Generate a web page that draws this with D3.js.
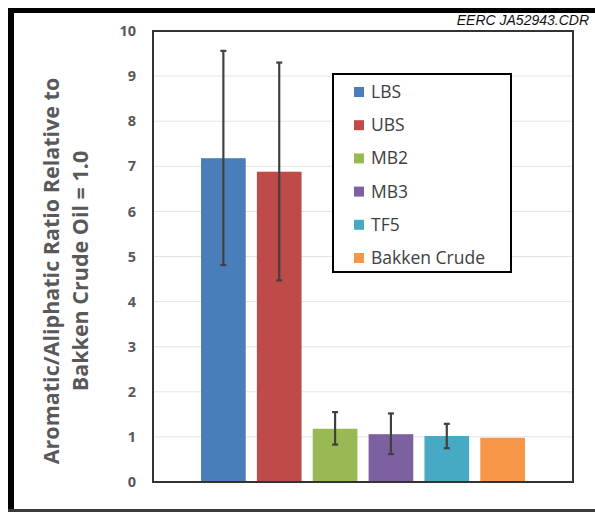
<!DOCTYPE html>
<html>
<head>
<meta charset="utf-8">
<script src="https://cdn.jsdelivr.net/npm/d3@7"></script>
<style>
  html, body { margin: 0; padding: 0; background: #fff; }
  svg { display: block; }
</style>
</head>
<body>
<svg id="chart" width="595" height="512"></svg>
<script>
// Sample groups and their aromatic/aliphatic ratios (relative to Bakken crude = 1.0)
const categories = ["LBS", "UBS", "MB2", "MB3", "TF5", "Bakken Crude"];
const values     = [7.18, 6.88, 1.18, 1.06, 1.02, 0.98];
const errHigh    = [9.56, 9.30, 1.55, 1.52, 1.29, null];
const errLow     = [4.81, 4.47, 0.83, 0.62, 0.75, null];
const colors     = ["#4a7ebb", "#be4b48", "#98b954", "#7d60a0", "#46aac5", "#f79646"];
const yTicks     = [0, 1, 2, 3, 4, 5, 6, 7, 8, 9, 10];

const svg = d3.select("#chart");
const W = 595, H = 512;
const plot = { left: 153, right: 573, top: 31, bottom: 482 };

// Outer frame: heavy black top/left edges, thin dark bottom edge
svg.append("rect").attr("x", 8).attr("y", 8).attr("width", W - 8).attr("height", 5).attr("fill", "#000");
svg.append("rect").attr("x", 8).attr("y", 8).attr("width", 6).attr("height", H - 8).attr("fill", "#000");
svg.append("rect").attr("x", 8).attr("y", 509).attr("width", W - 8).attr("height", 3).attr("fill", "#3a3a3a");

svg.append("text")
  .attr("x", 589).attr("y", 25)
  .attr("text-anchor", "end")
  .attr("font-family", "Liberation Sans, Arial, sans-serif")
  .attr("font-style", "italic")
  .attr("font-size", 14)
  .attr("fill", "#111")
  .text("EERC JA52943.CDR");

const x = d3.scaleBand()
  .domain(categories)
  .range([plot.left, plot.right])
  .paddingInner(0.2)
  .paddingOuter(0.86);

const y = d3.scaleLinear().domain([0, 10]).range([plot.bottom, plot.top]);

// Gridlines
svg.append("g")
  .selectAll("line")
  .data(yTicks.filter(d => d > 0 && d < 10))
  .join("line")
  .attr("x1", plot.left).attr("x2", plot.right)
  .attr("y1", d => y(d)).attr("y2", d => y(d))
  .attr("stroke", "#e4e4e4").attr("stroke-width", 1);

// Y axis tick labels
const yAxis = d3.axisLeft(y).tickValues(yTicks).tickSize(0).tickPadding(17);
const gy = svg.append("g").attr("transform", `translate(${plot.left},0)`).call(yAxis);
gy.select(".domain").remove();
gy.selectAll("text")
  .attr("font-family", "Open Sans, Liberation Sans, sans-serif")
  .attr("font-weight", "bold")
  .attr("font-size", 14.5)
  .attr("fill", "#595959");

// Bars
svg.append("g")
  .selectAll("rect")
  .data(categories)
  .join("rect")
  .attr("x", d => x(d))
  .attr("width", x.bandwidth())
  .attr("y", (d, i) => y(values[i]))
  .attr("height", (d, i) => y(0) - y(values[i]))
  .attr("fill", (d, i) => colors[i]);

// Error bars
const eb = svg.append("g").attr("stroke", "#404040").attr("stroke-width", 2.2);
categories.forEach((c, i) => {
  if (errHigh[i] == null) return;
  const cx = x(c) + x.bandwidth() / 2;
  eb.append("line").attr("x1", cx).attr("x2", cx).attr("y1", y(errHigh[i])).attr("y2", y(errLow[i]));
  eb.append("line").attr("x1", cx - 3).attr("x2", cx + 3).attr("y1", y(errHigh[i])).attr("y2", y(errHigh[i]));
  eb.append("line").attr("x1", cx - 3).attr("x2", cx + 3).attr("y1", y(errLow[i])).attr("y2", y(errLow[i]));
});

// Plot frame
svg.append("rect")
  .attr("x", plot.left).attr("y", plot.top)
  .attr("width", plot.right - plot.left).attr("height", plot.bottom - plot.top)
  .attr("fill", "none").attr("stroke", "#333").attr("stroke-width", 2);

// Y axis title
const title = svg.append("text")
  .attr("transform", "translate(75,271) rotate(-90)")
  .attr("text-anchor", "middle")
  .attr("font-family", "Open Sans, Liberation Sans, sans-serif")
  .attr("font-weight", "bold")
  .attr("font-size", 21.5)
  .attr("fill", "#595959");
title.append("tspan").attr("x", 0).attr("y", -16).text("Aromatic/Aliphatic Ratio Relative to");
title.append("tspan").attr("x", 0).attr("y", 13).text("Bakken Crude Oil = 1.0");

// Legend
const lg = svg.append("g");
lg.append("rect")
  .attr("x", 333).attr("y", 74).attr("width", 178).attr("height", 198)
  .attr("fill", "#fff").attr("stroke", "#000").attr("stroke-width", 2);
const rows = lg.selectAll("g.row").data(categories).join("g")
  .attr("class", "row")
  .attr("transform", (d, i) => `translate(354,${92 + i * 33.2})`);
rows.append("rect").attr("x", 0).attr("y", -5).attr("width", 10).attr("height", 10)
  .attr("fill", (d, i) => colors[i]);
rows.append("text")
  .attr("x", 17).attr("y", 6)
  .attr("font-family", "Open Sans, Liberation Sans, sans-serif")
  .attr("font-size", 17.5)
  .attr("fill", "#404040")
  .text(d => d);
</script>
</body>
</html>
